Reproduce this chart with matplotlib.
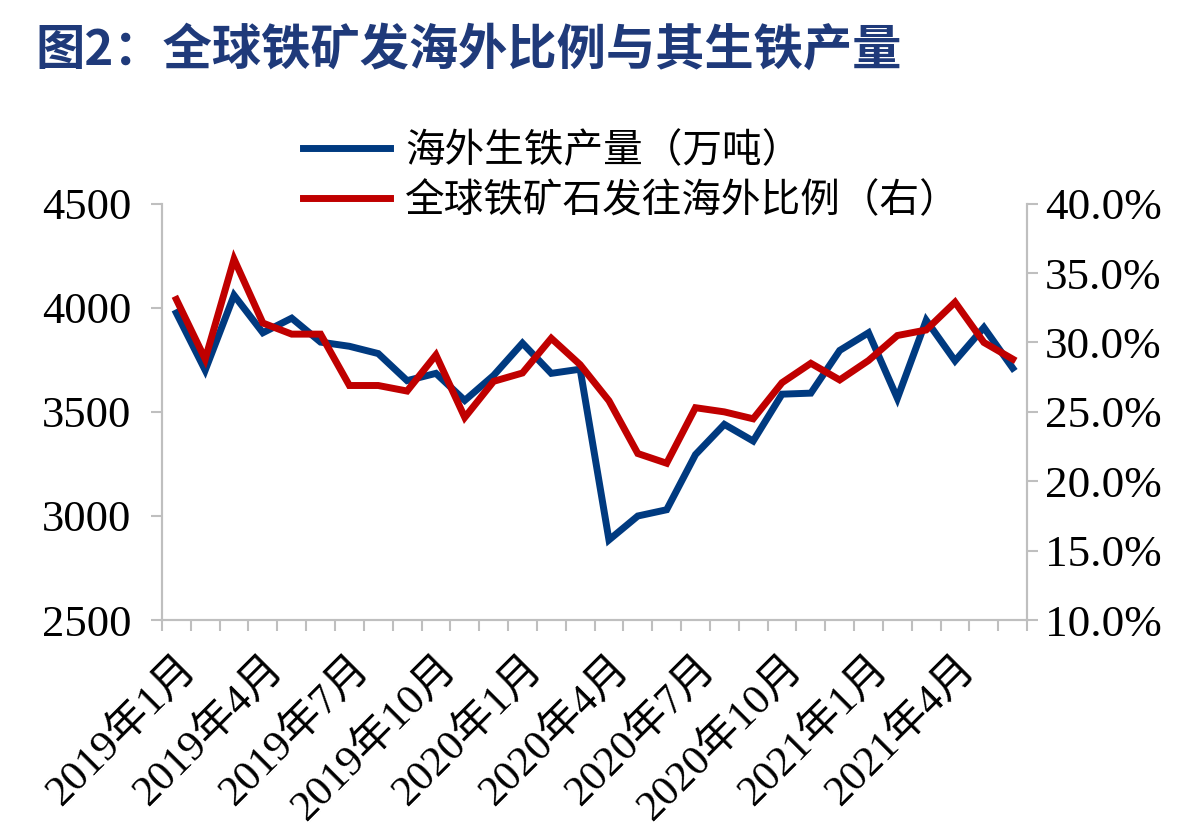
import matplotlib
matplotlib.use("Agg")
import matplotlib.pyplot as plt
from matplotlib.ticker import FuncFormatter
import numpy as np

plt.rcParams['font.family'] = ['Liberation Serif', 'Noto Sans CJK SC']

months = ["2019年1月", "2019年2月", "2019年3月", "2019年4月", "2019年5月", "2019年6月",
          "2019年7月", "2019年8月", "2019年9月", "2019年10月", "2019年11月", "2019年12月",
          "2020年1月", "2020年2月", "2020年3月", "2020年4月", "2020年5月", "2020年6月",
          "2020年7月", "2020年8月", "2020年9月", "2020年10月", "2020年11月", "2020年12月",
          "2021年1月", "2021年2月", "2021年3月", "2021年4月", "2021年5月", "2021年6月"]
# 海外生铁产量（万吨）
pig_iron = [3975, 3700, 4060, 3880, 3950, 3835, 3815, 3780, 3650, 3685,
            3555, 3675, 3830, 3685, 3705, 2885, 3000, 3030, 3295, 3440,
            3360, 3585, 3590, 3795, 3880, 3565, 3940, 3745, 3905, 3710]
# 全球铁矿石发往海外比例（%）
share = [33.1, 28.8, 36.0, 31.4, 30.6, 30.6, 26.9, 26.9, 26.5, 29.1,
         24.6, 27.2, 27.8, 30.3, 28.4, 25.8, 22.0, 21.3, 25.3, 25.0,
         24.5, 27.1, 28.5, 27.3, 28.7, 30.5, 30.9, 32.9, 30.0, 28.8]

blue = "#003A80"
red = "#C00000"
gray = "#BFBFBF"

fig = plt.figure(figsize=(11.82, 8.38), dpi=100)
ax = fig.add_axes([0.137, 0.26, 0.732, 0.497])
ax2 = ax.twinx()

x = np.arange(len(months))
l1, = ax.plot(x, pig_iron, color=blue, lw=5, solid_joinstyle='miter', label="海外生铁产量（万吨）")
l2, = ax2.plot(x, share, color=red, lw=5, solid_joinstyle='miter', label="全球铁矿石发往海外比例（右）")
ax2.set_zorder(ax.get_zorder() + 1)

ax.set_xlim(-0.5, len(months) - 0.5)
ax.set_ylim(2500, 4500)
ax.set_yticks([2500, 3000, 3500, 4000, 4500])
ax2.set_ylim(10, 40)
ax2.set_yticks([10, 15, 20, 25, 30, 35, 40])
ax2.yaxis.set_major_formatter(FuncFormatter(lambda v, p: f"{v:.1f}%"))

ax.set_xticks(x[::3])
ax.set_xticklabels(months[::3], rotation=45, ha='right', rotation_mode='anchor',
                   fontsize=31, family=['Liberation Serif', 'Noto Sans CJK SC'])
ax.set_xticks(np.arange(-0.5, len(months), 1), minor=True)
ax.tick_params(axis='x', which='major', length=0, pad=20)
ax.tick_params(axis='x', which='minor', length=8, color=gray, width=1.5)
ax.tick_params(axis='y', labelsize=32, length=8, color=gray, width=1.5, pad=14)
ax2.tick_params(axis='y', labelsize=32.5, length=8, color=gray, width=1.5, pad=5)

for a in (ax, ax2):
    a.spines['top'].set_visible(False)
    for s in ('left', 'right', 'bottom'):
        a.spines[s].set_color(gray)
        a.spines[s].set_linewidth(1.5)

fig.legend(handles=[l1, l2], loc='upper left', bbox_to_anchor=(0.226, 0.886),
           frameon=False, handlelength=2.2, handletextpad=0.38,
           labelspacing=0.25, prop={'family': ['Noto Sans CJK SC'], 'size': 28.5})

fig.text(0.03, 0.94, "图2：全球铁矿发海外比例与其生铁产量", fontsize=35.5, fontweight='bold',
         color="#1F3A7A", family=['Noto Sans CJK SC'], va='center', ha='left')

fig.savefig("out.png", dpi=100)
